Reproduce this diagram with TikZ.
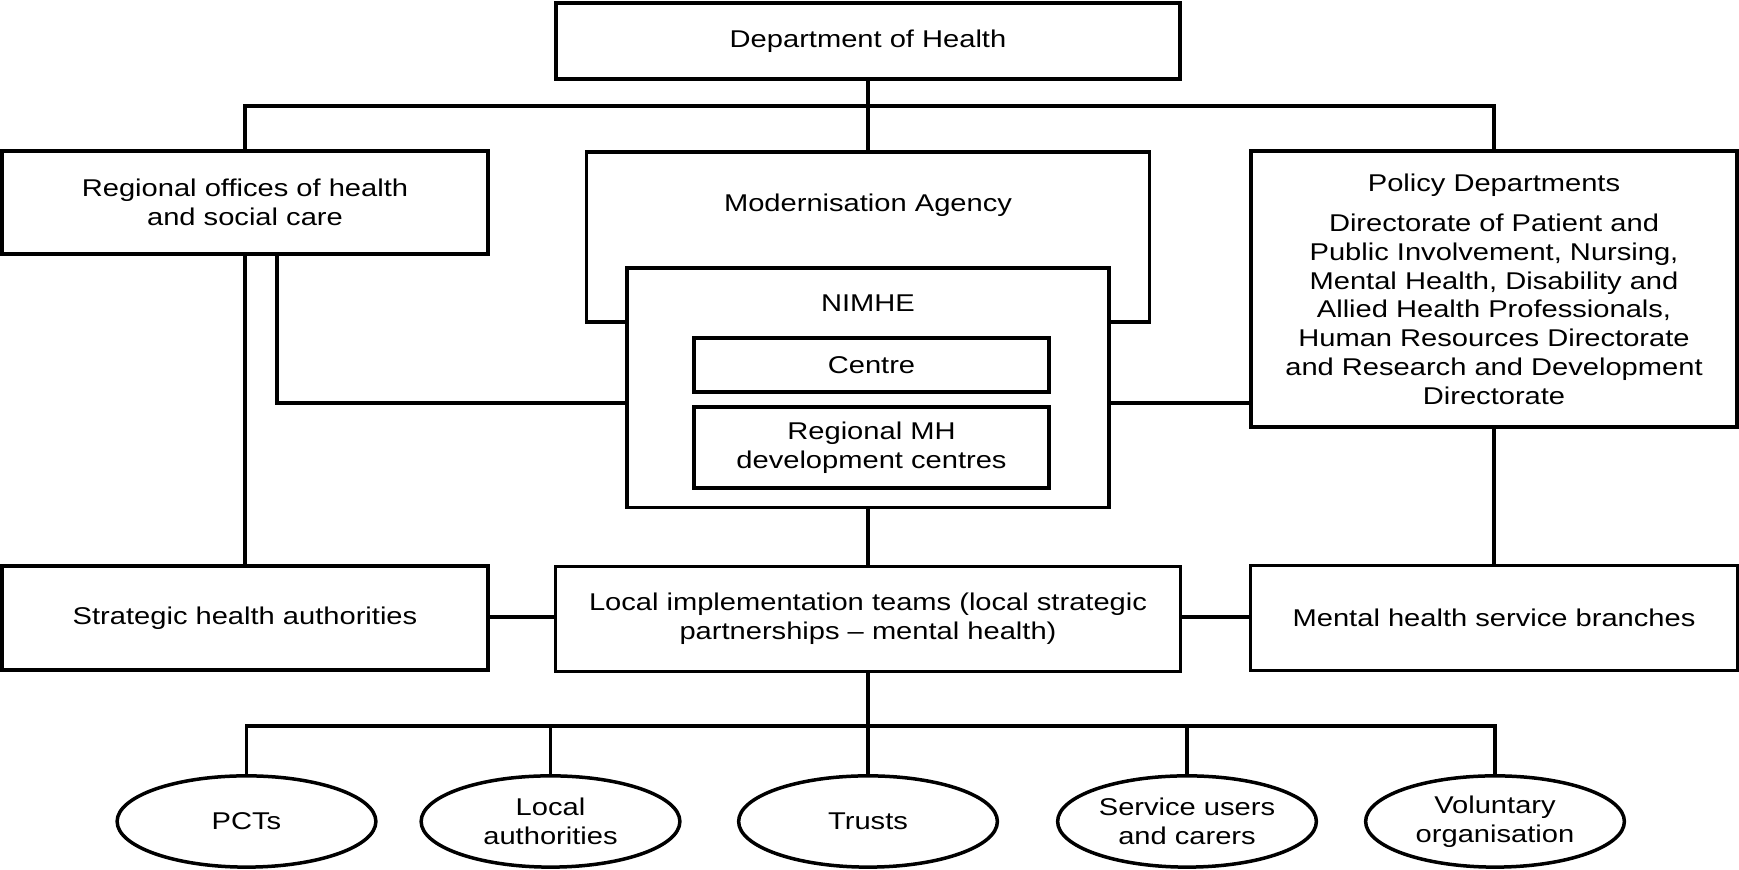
\documentclass[tikz,border=0pt]{standalone}
\usepackage{fontspec}
\setmainfont{Liberation Sans}[FakeStretch=1.2]
\usepackage{tikz}
\usetikzlibrary{shapes.geometric}

\begin{document}
\begin{tikzpicture}[x=0.4pt, y=0.4pt,
    every node/.style={font=\fontsize{9.7}{11.5}\selectfont, align=center},
    box/.style={draw, line width=1.4pt, fill=white, inner sep=0pt},
    oval/.style={draw, ellipse, line width=1.4pt, inner sep=0pt,
        minimum width=103.5pt, minimum height=36.5pt},
    link/.style={line width=1.4pt}]
    \useasboundingbox (0,0) rectangle (1739,870);

    % Top level
    \node[box, minimum width=249.6pt, minimum height=30.4pt] (doh) at (868,829) {Department of Health};

    % Second level
    \node[box, minimum width=194.4pt, minimum height=41.2pt] (rof) at (245,667.5)
        {Regional offices of health\\and social care};
    \node[box, minimum width=225.2pt, minimum height=68pt] (mod) at (868,633) {};
    \node (modtxt) at (868,665) {Modernisation Agency};
    \node[box, minimum width=194.4pt, minimum height=110.4pt] (pol) at (1494,581)
        {Policy Departments\\[4.6pt]
         Directorate of Patient and\\
         Public Involvement, Nursing,\\
         Mental Health, Disability and\\
         Allied Health Professionals,\\
         Human Resources Directorate\\
         and Research and Development\\
         Directorate};

    % NIMHE
    \node[box, minimum width=192.8pt, minimum height=95.9pt] (nimhe) at (868,482.2) {};
    \node (nimhetxt) at (868,567) {NIMHE};
    \node[box, minimum width=142pt, minimum height=21.6pt] (centre) at (871.5,505) {Centre};
    \node[box, minimum width=142pt, minimum height=32.4pt] (rmh) at (871.5,422.5)
        {Regional MH\\development centres};

    % Third level
    \node[box, minimum width=194.4pt, minimum height=41.6pt] (sha) at (245,252) {Strategic health authorities};
    \node[box, minimum width=250pt, minimum height=42pt] (lit) at (868,251)
        {Local implementation teams (local strategic\\partnerships -- mental health)};
    \node[box, minimum width=194.8pt, minimum height=41.9pt] (mhsb) at (1494,252)
        {Mental health service branches};

    % Bottom level
    \node[oval] (pct) at (246.5,48.5) {PCTs};
    \node[oval] (la) at (550.5,48.5) {Local\\authorities};
    \node[oval] (tru) at (868,48.5) {Trusts};
    \node[oval] (su) at (1187,48.5) {Service users\\and carers};
    \node[oval] (vol) at (1495,48.5) {Voluntary\\organisation};

    % Connectors
    \coordinate (tbus) at (868,764);
    \coordinate (rn) at (277,467);
    \coordinate (bbus) at (868,144);
    \draw[link] (doh) -- (tbus);
    \draw[link] (rof.north) |- (tbus) -| (pol.north);
    \draw[link] (tbus) -- (mod.north);
    \draw[link] (rof) -- (sha);
    \draw[link] (rof.south -| rn) -- (rn) -- (rn -| nimhe.west);
    \draw[link] (rn -| nimhe.east) -- (rn -| pol.west);
    \draw[link] (nimhe) -- (lit);
    \draw[link] (pol) -- (mhsb);
    \draw[link] (sha.east |- 0,253) -- (lit.west |- 0,253);
    \draw[link] (lit.east |- 0,253) -- (mhsb.west |- 0,253);
    \draw[link] (lit) -- (bbus);
    \draw[link] (pct.north) |- (bbus) -| (vol.north);
    \foreach \n in {la,tru,su}
        \draw[link] (\n.north) -- (\n.north |- bbus);
\end{tikzpicture}
\end{document}
